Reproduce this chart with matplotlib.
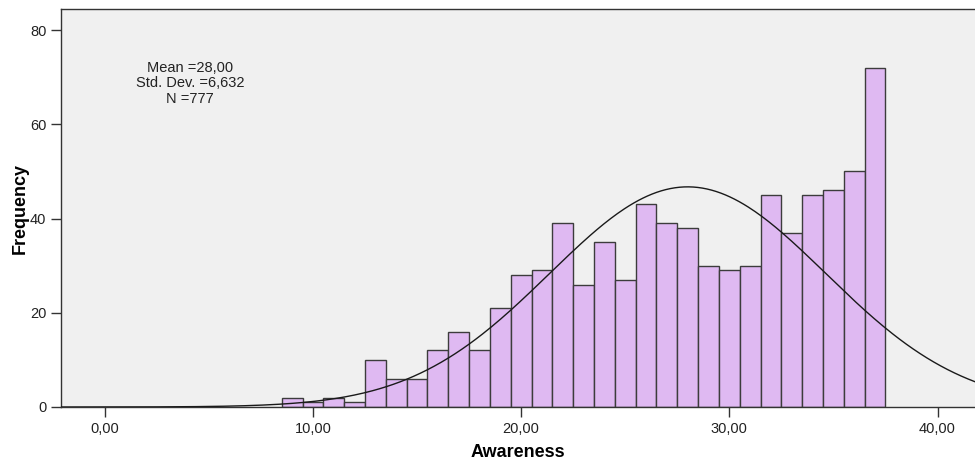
import numpy as np
import matplotlib.pyplot as plt
from matplotlib.ticker import FuncFormatter

# Awareness scores (bin centres) and their counts
scores = np.arange(9, 38)
counts = [2, 1, 2, 1, 10, 6, 6, 12, 16, 12, 21, 28, 29, 39, 26, 35, 27,
          43, 39, 38, 30, 29, 30, 45, 37, 45, 46, 50, 72]
mean_val = 28.00
std_val = 6.632
n_val = 777

x_ticks = [0, 10, 20, 30, 40]
y_ticks = [0, 20, 40, 60, 80]

plt.rcParams['font.family'] = ['Liberation Sans Narrow', 'Liberation Sans', 'DejaVu Sans']


def comma(v, digits):
    return f'{v:.{digits}f}'.replace('.', ',')


fig = plt.figure(figsize=(9.75, 4.66), dpi=100)
ax = fig.add_axes([61 / 975, 59 / 466, 1 - 61 / 975, 398 / 466])
ax.set_facecolor('#f0f0f0')

ax.bar(scores, counts, width=1.0, color='#dfb9f2', edgecolor='#3c3c3c',
       linewidth=1.0, zorder=2)

# normal curve scaled to the histogram
xs = np.linspace(-2.1, 41.8, 400)
pdf = np.exp(-0.5 * ((xs - mean_val) / std_val) ** 2) / (std_val * np.sqrt(2 * np.pi))
ax.plot(xs, n_val * 1.0 * pdf, color='#1a1a1a', linewidth=1.0, zorder=3)

ax.set_xlim(-2.1, 41.8)
ax.set_ylim(0, 84.5)
ax.set_xticks(x_ticks)
ax.set_yticks(y_ticks)
ax.xaxis.set_major_formatter(FuncFormatter(lambda v, p: comma(v, 2)))
ax.tick_params(axis='both', direction='out', length=7, width=1, color='#333333',
               labelsize=10.5, labelcolor='#222222')

for side in ['left', 'bottom', 'top']:
    ax.spines[side].set_color('#333333')
    ax.spines[side].set_linewidth(1)
ax.spines['right'].set_visible(False)

ax.set_xlabel('Awareness', fontsize=13, fontweight='bold', labelpad=6)
ax.set_ylabel('Frequency', fontsize=13, fontweight='bold', labelpad=1)

stats = (f'Mean ={comma(mean_val, 2)}\n'
         f'Std. Dev. ={comma(std_val, 3)}\n'
         f'N ={n_val}')
ax.text(0.141, 0.87, stats, transform=ax.transAxes, ha='center', va='top',
        fontsize=10.5, color='#222222', linespacing=1.15)

fig.savefig('out.png', dpi=100)
